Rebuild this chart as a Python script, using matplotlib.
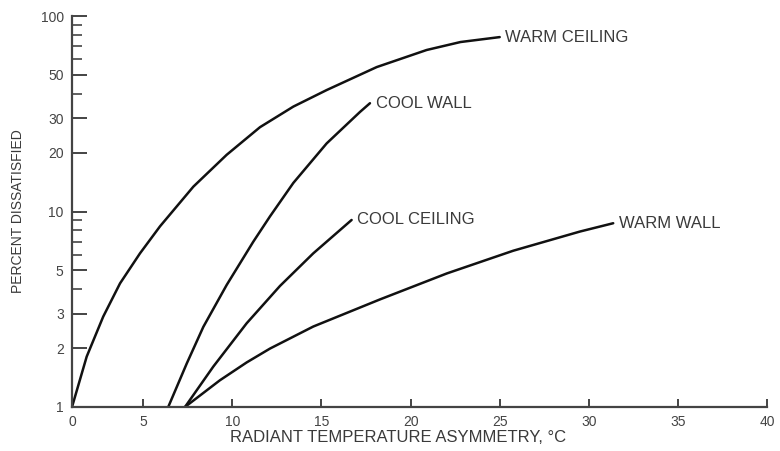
import numpy as np
import matplotlib
matplotlib.use("Agg")
import matplotlib.pyplot as plt
from matplotlib.ticker import FixedLocator, NullFormatter

plt.rcParams['font.family'] = ['Liberation Sans', 'DejaVu Sans']

# curves (x = asymmetry in deg C, y = percent dissatisfied)
warm_ceiling_x = [0, 1.03, 2.19, 3.37, 4.77, 5.94, 7.81, 9.68, 11.55, 13.42, 15.29, 18.1, 20.9, 22.8, 25.0]
warm_ceiling_y = [1, 1.81, 2.90, 4.29, 6.11, 8.40, 13.4, 19.5, 27.0, 34.4, 41.8, 54.8, 67, 73.6, 78]

cool_wall_x = [6.40, 7.44, 8.37, 9.68, 11.17, 12.11, 13.42, 15.29, 17.16, 17.72]
cool_wall_y = [1, 1.67, 2.57, 4.21, 7.0, 9.44, 14.0, 22.3, 32.3, 35.8]

cool_ceiling_x = [7.34, 8.93, 10.80, 12.67, 14.54, 16.69]
cool_ceiling_y = [1, 1.61, 2.68, 4.16, 6.11, 9.05]

warm_wall_x = [7.34, 9.30, 10.80, 12.11, 14.54, 18.28, 22.03, 25.76, 29.51, 31.37]
warm_wall_y = [1, 1.37, 1.69, 1.99, 2.58, 3.55, 4.82, 6.30, 7.90, 8.71]

curve_labels = ['WARM CEILING', 'COOL WALL', 'COOL CEILING', 'WARM WALL']

x_ticks = [0, 5, 10, 15, 20, 25, 30, 35, 40]
y_ticks = [1, 2, 3, 5, 10, 20, 30, 50, 100]
y_minor = [4, 6, 7, 8, 9, 40, 60, 70, 80, 90]


# the original figure squeezes the 0-5 interval on the x axis
def fwd(x):
    x = np.asarray(x, dtype=float)
    return np.where(x < 5, 1 + 0.8 * x, x)


def inv(f):
    f = np.asarray(f, dtype=float)
    return np.where(f < 5, (f - 1) / 0.8, f)


fig = plt.figure(figsize=(7.8, 4.51), dpi=100)
ax = fig.add_axes([72 / 780, 1 - 407 / 451, 695 / 780, 391 / 451])

ax.set_xscale('function', functions=(fwd, inv))
ax.set_yscale('log')

curves = [(warm_ceiling_x, warm_ceiling_y), (cool_wall_x, cool_wall_y),
          (cool_ceiling_x, cool_ceiling_y), (warm_wall_x, warm_wall_y)]
for (xs, ys), name in zip(curves, curve_labels):
    ax.plot(xs, ys, color='#111111', lw=1.8, solid_capstyle='round', solid_joinstyle='round')
    ax.annotate(name, xy=(xs[-1], ys[-1]), xytext=(4, 0), textcoords='offset points',
                ha='left', va='center', fontsize=12, color='#3a3a3a')

ax.set_xlim(0, 40)
ax.set_ylim(1, 100)

ax.xaxis.set_major_locator(FixedLocator(x_ticks))
ax.xaxis.set_minor_locator(FixedLocator([]))
ax.set_xticklabels([str(t) for t in x_ticks])
ax.yaxis.set_major_locator(FixedLocator(y_ticks))
ax.yaxis.set_minor_locator(FixedLocator(y_minor))
ax.set_yticklabels([str(t) for t in y_ticks])
ax.yaxis.set_minor_formatter(NullFormatter())

for s in ['top', 'right']:
    ax.spines[s].set_visible(False)
for s in ['left', 'bottom']:
    ax.spines[s].set_color('#444444')
    ax.spines[s].set_linewidth(1.6)

ax.tick_params(axis='y', which='major', direction='in', length=11, width=1.4,
               color='#444444', labelsize=10, labelcolor='#444444', pad=6)
ax.tick_params(axis='y', which='minor', direction='in', length=7, width=1.2, color='#444444')
ax.tick_params(axis='x', which='major', direction='in', length=6, width=1.4,
               color='#444444', labelsize=10, labelcolor='#444444', pad=6)

ax.set_xlabel('RADIANT TEMPERATURE ASYMMETRY, °C', fontsize=12, color='#3a3a3a')
ax.xaxis.set_label_coords(0.469, -0.06)
ax.set_ylabel('PERCENT DISSATISFIED', fontsize=10, color='#3a3a3a')
ax.yaxis.set_label_coords(-0.068, 0.5)

fig.savefig('out.png', dpi=100)
